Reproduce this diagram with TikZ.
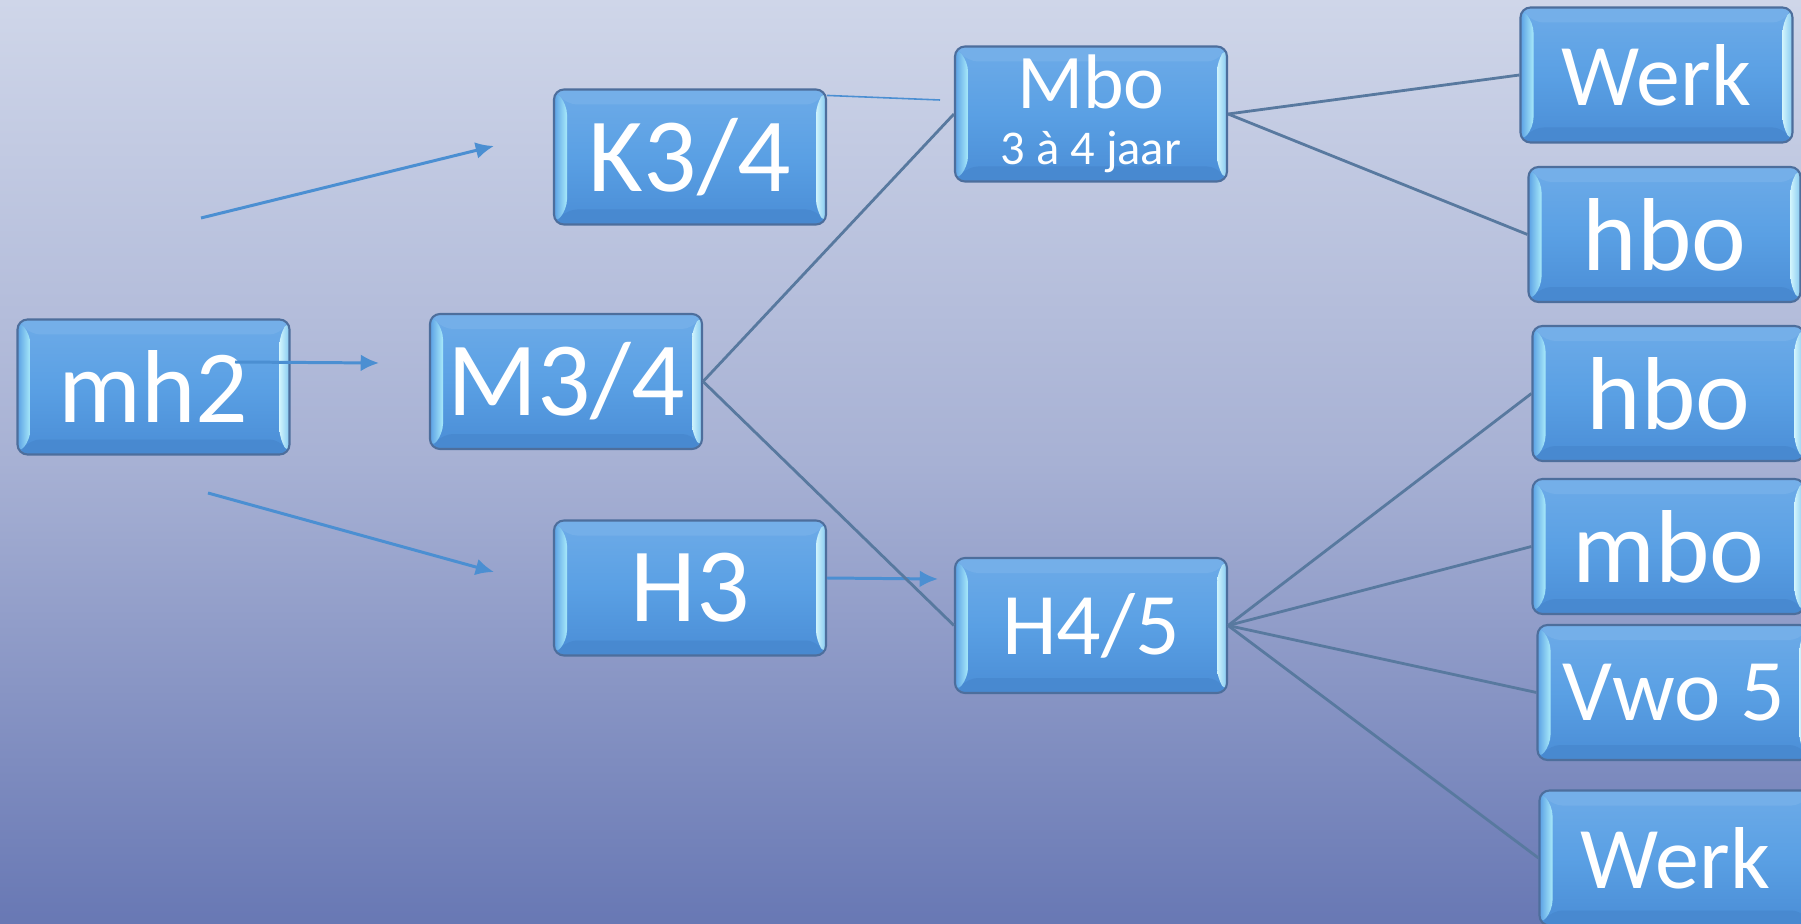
\documentclass[tikz,border=0pt]{standalone}
\usepackage{fontspec}
\setmainfont{Carlito}
\usetikzlibrary{positioning,arrows.meta,calc}
\definecolor{bgtop}{HTML}{CFD6E9}
\definecolor{bgmid}{HTML}{A7B1D4}
\definecolor{bgbot}{HTML}{6878B4}
\definecolor{boxtop}{HTML}{6DABE8}
\definecolor{boxmid}{HTML}{5AA0E4}
\definecolor{boxbot}{HTML}{4A8DD6}
\definecolor{boxedge}{HTML}{4D6E9C}
\definecolor{bevelcol}{HTML}{A8EAFA}
\definecolor{arrowblue}{HTML}{4B8FD2}
\definecolor{linkblue}{HTML}{58799F}
\tikzset{->,>={Latex[length=5.2pt,width=4.8pt]}}
\newcommand{\pbb}{path picture bounding box}
\tikzset{box/.style={draw=boxedge, line width=0.6pt, rounded corners=0.1cm,
    top color=boxtop, bottom color=boxbot, middle color=boxmid,
    minimum width=2.72cm, minimum height=1.35cm, inner sep=0pt, text=white,
    path picture={
      % top and bottom rims
      \fill[boxtop!95!white] (\pbb.north west) -- (\pbb.north east) -- ([shift={(-0.1,-0.15)}]\pbb.north east) -- ([shift={(0.13,-0.15)}]\pbb.north west) -- cycle;
      \fill[boxbot!97!black] (\pbb.south west) -- (\pbb.south east) -- ([shift={(-0.1,0.15)}]\pbb.south east) -- ([shift={(0.13,0.15)}]\pbb.south west) -- cycle;
      % left and right rims
      \shade[left color=boxmid, right color=bevelcol] (\pbb.north west) -- ([shift={(0.13,-0.15)}]\pbb.north west) -- ([shift={(0.13,0.15)}]\pbb.south west) -- (\pbb.south west) -- cycle;
      \shade[left color=white!45!bevelcol, right color=bevelcol!55!boxmid] (\pbb.north east) -- ([shift={(-0.1,-0.15)}]\pbb.north east) -- ([shift={(-0.1,0.15)}]\pbb.south east) -- (\pbb.south east) -- cycle;
    }},
  f30/.style={font=\fontsize{30}{32}\selectfont},
  f29/.style={font=\fontsize{29.5}{32}\selectfont},
  f25/.style={font=\fontsize{25}{28}\selectfont},
  f22/.style={font=\fontsize{22}{24}\selectfont},
  arrowline/.style={->,arrowblue,line width=0.85pt},
  thinline/.style={-,arrowblue,line width=0.45pt},
  link/.style={-,linkblue,line width=0.8pt}}
\newcommand{\drawbox}{\node[box]}
\newcommand{\drawdummy}{\coordinate}

\begin{document}
\begin{tikzpicture}[scale=1]
	\useasboundingbox (0,0) rectangle (18.01,9.23);
	\clip (0,0) rectangle (18.01,9.23);
	\shade[top color=bgtop, bottom color=bgbot, middle color=bgmid] (0,0) rectangle (18.01,9.23);
	
	\drawbox (mh2) [f29] at (1.535,5.36) {mh2};
	\drawbox (K34) [f30] at (6.90,7.66) {K3/4};
	\drawbox (M34) [f30] at (5.66,5.415) {M3/4};
	\drawbox (H3) [f30] at (6.90,3.35) {H3};
	\drawbox (mbo) [f22,align=center] at (10.91,8.09) {Mbo\\[-8pt]{\fontsize{13.8}{15}\selectfont 3 à 4 jaar}};
	\drawbox (H45) [f25] at (10.91,2.975) {H4/5};
	\drawbox (werkA) [f25] at (16.565,8.48) {Werk};
	\drawbox (hboA) [f29] at (16.645,6.885) {hbo};
	\drawbox (hboB) [f29] at (16.685,5.295) {hbo};
	\drawbox (mboB) [f29] at (16.685,3.765) {mbo};
	\drawbox (vwo) [f25] at (16.735,2.305) {Vwo 5};
	\drawbox (werkB) [f25] at (16.755,0.65) {Werk};
	
	\drawdummy (a1s) at (2.01,7.05);
	\drawdummy (a1e) at (4.94,7.77);
	\drawdummy (a2s) at (2.35,5.61);
	\drawdummy (a2e) at (3.79,5.60);
	\drawdummy (a3s) at (2.08,4.30);
	\drawdummy (a3e) at (4.94,3.51);
	\drawdummy (h3e) at (9.38,3.44);
	\drawdummy (ke) at (9.40,8.23);
	
	\draw[arrowline] (a1s) -- (a1e);
	\draw[arrowline] (a2s) -- (a2e);
	\draw[arrowline] (a3s) -- (a3e);
	\draw[arrowline] ([yshift=0.1cm]H3.east) -- (h3e);
	\draw[thinline] ([yshift=-0.07cm]K34.north east) -- (ke);
	
	\draw[link] (M34.east) -- (mbo.west);
	\draw[link] (M34.east) -- (H45.west);
	\draw[link] (mbo.east) -- (werkA.west);
	\draw[link] (mbo.east) -- (hboA.west);
	\foreach \t in {hboB,mboB,vwo,werkB}
		\draw[link] (H45.east) -- (\t.west);
	
\end{tikzpicture}
\end{document}
